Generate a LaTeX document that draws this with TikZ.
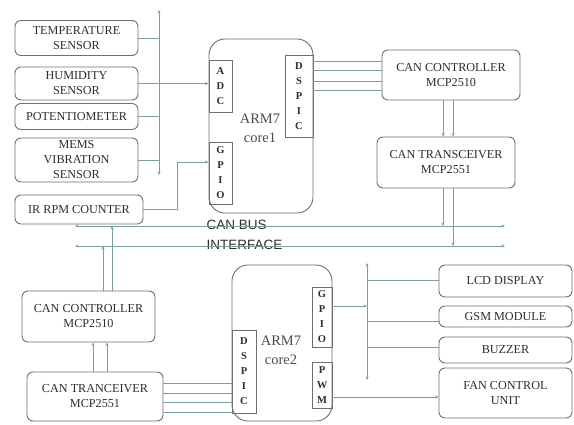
\documentclass[tikz,border=0pt]{standalone}
\usepackage{fontspec}
\setmainfont{Liberation Serif}
\newfontfamily\busfont{Liberation Sans}
\usetikzlibrary{arrows.meta,calc}
\definecolor{conncol}{RGB}{120,160,160}
\definecolor{boxcol}{RGB}{110,110,110}
\definecolor{txtcol}{RGB}{45,45,45}
\begin{document}
\begin{tikzpicture}[x=1pt,y=-1pt,
  box/.style={draw=boxcol,line width=0.9pt,rounded corners=6pt,inner sep=0pt,align=center,text=txtcol,font=\fontsize{12.2}{15}\selectfont},
  cpu/.style={draw=boxcol,line width=0.9pt,rounded corners=16pt,inner sep=0pt},
  port/.style={draw=boxcol,line width=0.9pt,inner sep=0pt,align=center,text=txtcol,font=\fontsize{10.5}{15}\selectfont\bfseries},
  cpulabel/.style={align=center,text=txtcol!85,font=\fontsize{14.5}{19}\selectfont},
  conn/.style={draw=conncol,line width=0.8pt},
  tip/.style={-{Stealth[length=3.5pt,width=3pt]}},
  tips/.style={{Stealth[length=3.5pt,width=3pt]}-{Stealth[length=3.5pt,width=3pt]}},
  ]
\useasboundingbox (0,0) rectangle (574,424);

% sensor boxes
\node[box,minimum width=123pt,minimum height=35pt] (temp) at (76.5,38) {TEMPERATURE\\SENSOR};
\node[box,minimum width=123pt,minimum height=33pt] (hum) at (76.5,83.5) {HUMIDITY\\SENSOR};
\node[box,minimum width=123pt,minimum height=26pt] (pot) at (76.5,116.5) {POTENTIOMETER};
\node[box,minimum width=123pt,minimum height=44pt] (mems) at (76.5,160) {MEMS\\VIBRATION\\SENSOR};
\node[box,minimum width=128pt,minimum height=29pt] (ir) at (79,209.5) {IR RPM COUNTER};

% core1
\node[cpu,minimum width=104pt,minimum height=174pt] (core1) at (261,126) {};
\node[cpulabel] (lbl1) at (260,128) {ARM7\\core1};
\node[port,minimum width=23pt,minimum height=52pt] (adc) at (220.5,86) {A\\D\\C};
\node[port,minimum width=23pt,minimum height=62pt] (gpio1) at (220.5,173) {G\\P\\I\\O};
\node[port,minimum width=28pt,minimum height=82pt] (dspic1) at (299,96) {D\\S\\P\\I\\C};

% CAN 1
\node[box,minimum width=138pt,minimum height=50pt] (ctrl1) at (451,75) {CAN CONTROLLER\\MCP2510};
\node[box,minimum width=138pt,minimum height=51pt] (trx1) at (446,162.5) {CAN TRANSCEIVER\\MCP2551};

% bus label
\node[anchor=west,align=left,text=txtcol,font=\busfont\fontsize{13.5}{20}\selectfont] (buslbl) at (203,235) {CAN BUS\\INTERFACE};

% CAN 2
\node[box,minimum width=133pt,minimum height=51pt] (ctrl2) at (88.5,316.5) {CAN CONTROLLER\\MCP2510};
\node[box,minimum width=136pt,minimum height=49pt] (trx2) at (95,396.5) {CAN TRANCEIVER\\MCP2551};

% core2
\node[cpu,minimum width=100pt,minimum height=156pt] (core2) at (282,343) {};
\node[cpulabel] (lbl2) at (281,350) {ARM7\\core2};
\node[port,minimum width=24pt,minimum height=83pt] (dspic2) at (244,371.5) {D\\S\\P\\I\\C};
\node[port,minimum width=20pt,minimum height=60pt] (gpio2) at (322,317) {G\\P\\I\\O};
\node[port,minimum width=20pt,minimum height=46pt] (pwm2) at (322,385) {P\\W\\M};

% output boxes
\node[box,minimum width=133pt,minimum height=32pt] (lcd) at (505.5,281) {LCD DISPLAY};
\node[box,minimum width=133pt,minimum height=21pt] (gsm) at (505.5,316.5) {GSM MODULE};
\node[box,minimum width=133pt,minimum height=26pt] (buzz) at (505.5,350) {BUZZER};
\node[box,minimum width=133pt,minimum height=50pt] (fan) at (505.5,393) {FAN CONTROL\\UNIT};

% coordinates
\coordinate (vb1t) at (159,10);
\coordinate (vb1b) at (159,175);
\coordinate (irk) at (177,162);
\coordinate (busAL) at (75,226);
\coordinate (busAR) at (505,226);
\coordinate (busBL) at (75,246);
\coordinate (busBR) at (505,246);
\coordinate (vb2t) at (367,263);
\coordinate (vb2b) at (367,380);

% sensor bus
\draw[conn,tips] (vb1b) -- (vb1t);
\draw[conn] (temp.east) -- (temp.east -| vb1t);
\draw[conn,tip] (hum.east) -- (hum.east -| adc.west);
\draw[conn] (pot.east) -- (pot.east -| vb1t);
\draw[conn] (mems.east) -- (mems.east -| vb1t);
\draw[conn,tip] (ir.east) -| (irk) -- (irk -| gpio1.west);

% dspic1 to controller
\foreach \y in {61,70,81,90} \draw[conn] (dspic1.east |- 0,\y) -- (ctrl1.west |- 0,\y);
\foreach \x in {443,453} \draw[conn,tip] (ctrl1.south -| \x,0) -- (trx1.north -| \x,0);
\draw[conn,tip] (trx1.south -| 443,0) -- (busAL -| 443,0);
\draw[conn,tip] (trx1.south -| 453,0) -- (busBL -| 453,0);

% CAN bus
\draw[conn,tips] (busAL) -- (busAR);
\draw[conn,tips] (busBL) -- (busBR);

% left CAN
\foreach \x in {93,107} \draw[conn,tip] (trx2.north -| \x,0) -- (ctrl2.south -| \x,0);
\draw[conn,tip] (ctrl2.north -| 103,0) -- (busBL -| 103,0);
\draw[conn,tip] (ctrl2.north -| 112,0) -- (busAL -| 112,0);
\foreach \y in {383,393,402,412} \draw[conn] (trx2.east |- 0,\y) -- (dspic2.west |- 0,\y);

% output bus
\draw[conn,tips] (vb2b) -- (vb2t);
\draw[conn,tip] (gpio2.east |- 0,306) -- (vb2t |- 0,306);
\draw[conn] (vb2t |- 0,280) -- (lcd.west |- 0,280);
\draw[conn] (vb2t |- 0,321) -- (gsm.west |- 0,321);
\draw[conn] (vb2t |- 0,347) -- (buzz.west |- 0,347);
\draw[conn,tip] (pwm2.east |- 0,397) -- (fan.west |- 0,397);
\end{tikzpicture}
\end{document}
